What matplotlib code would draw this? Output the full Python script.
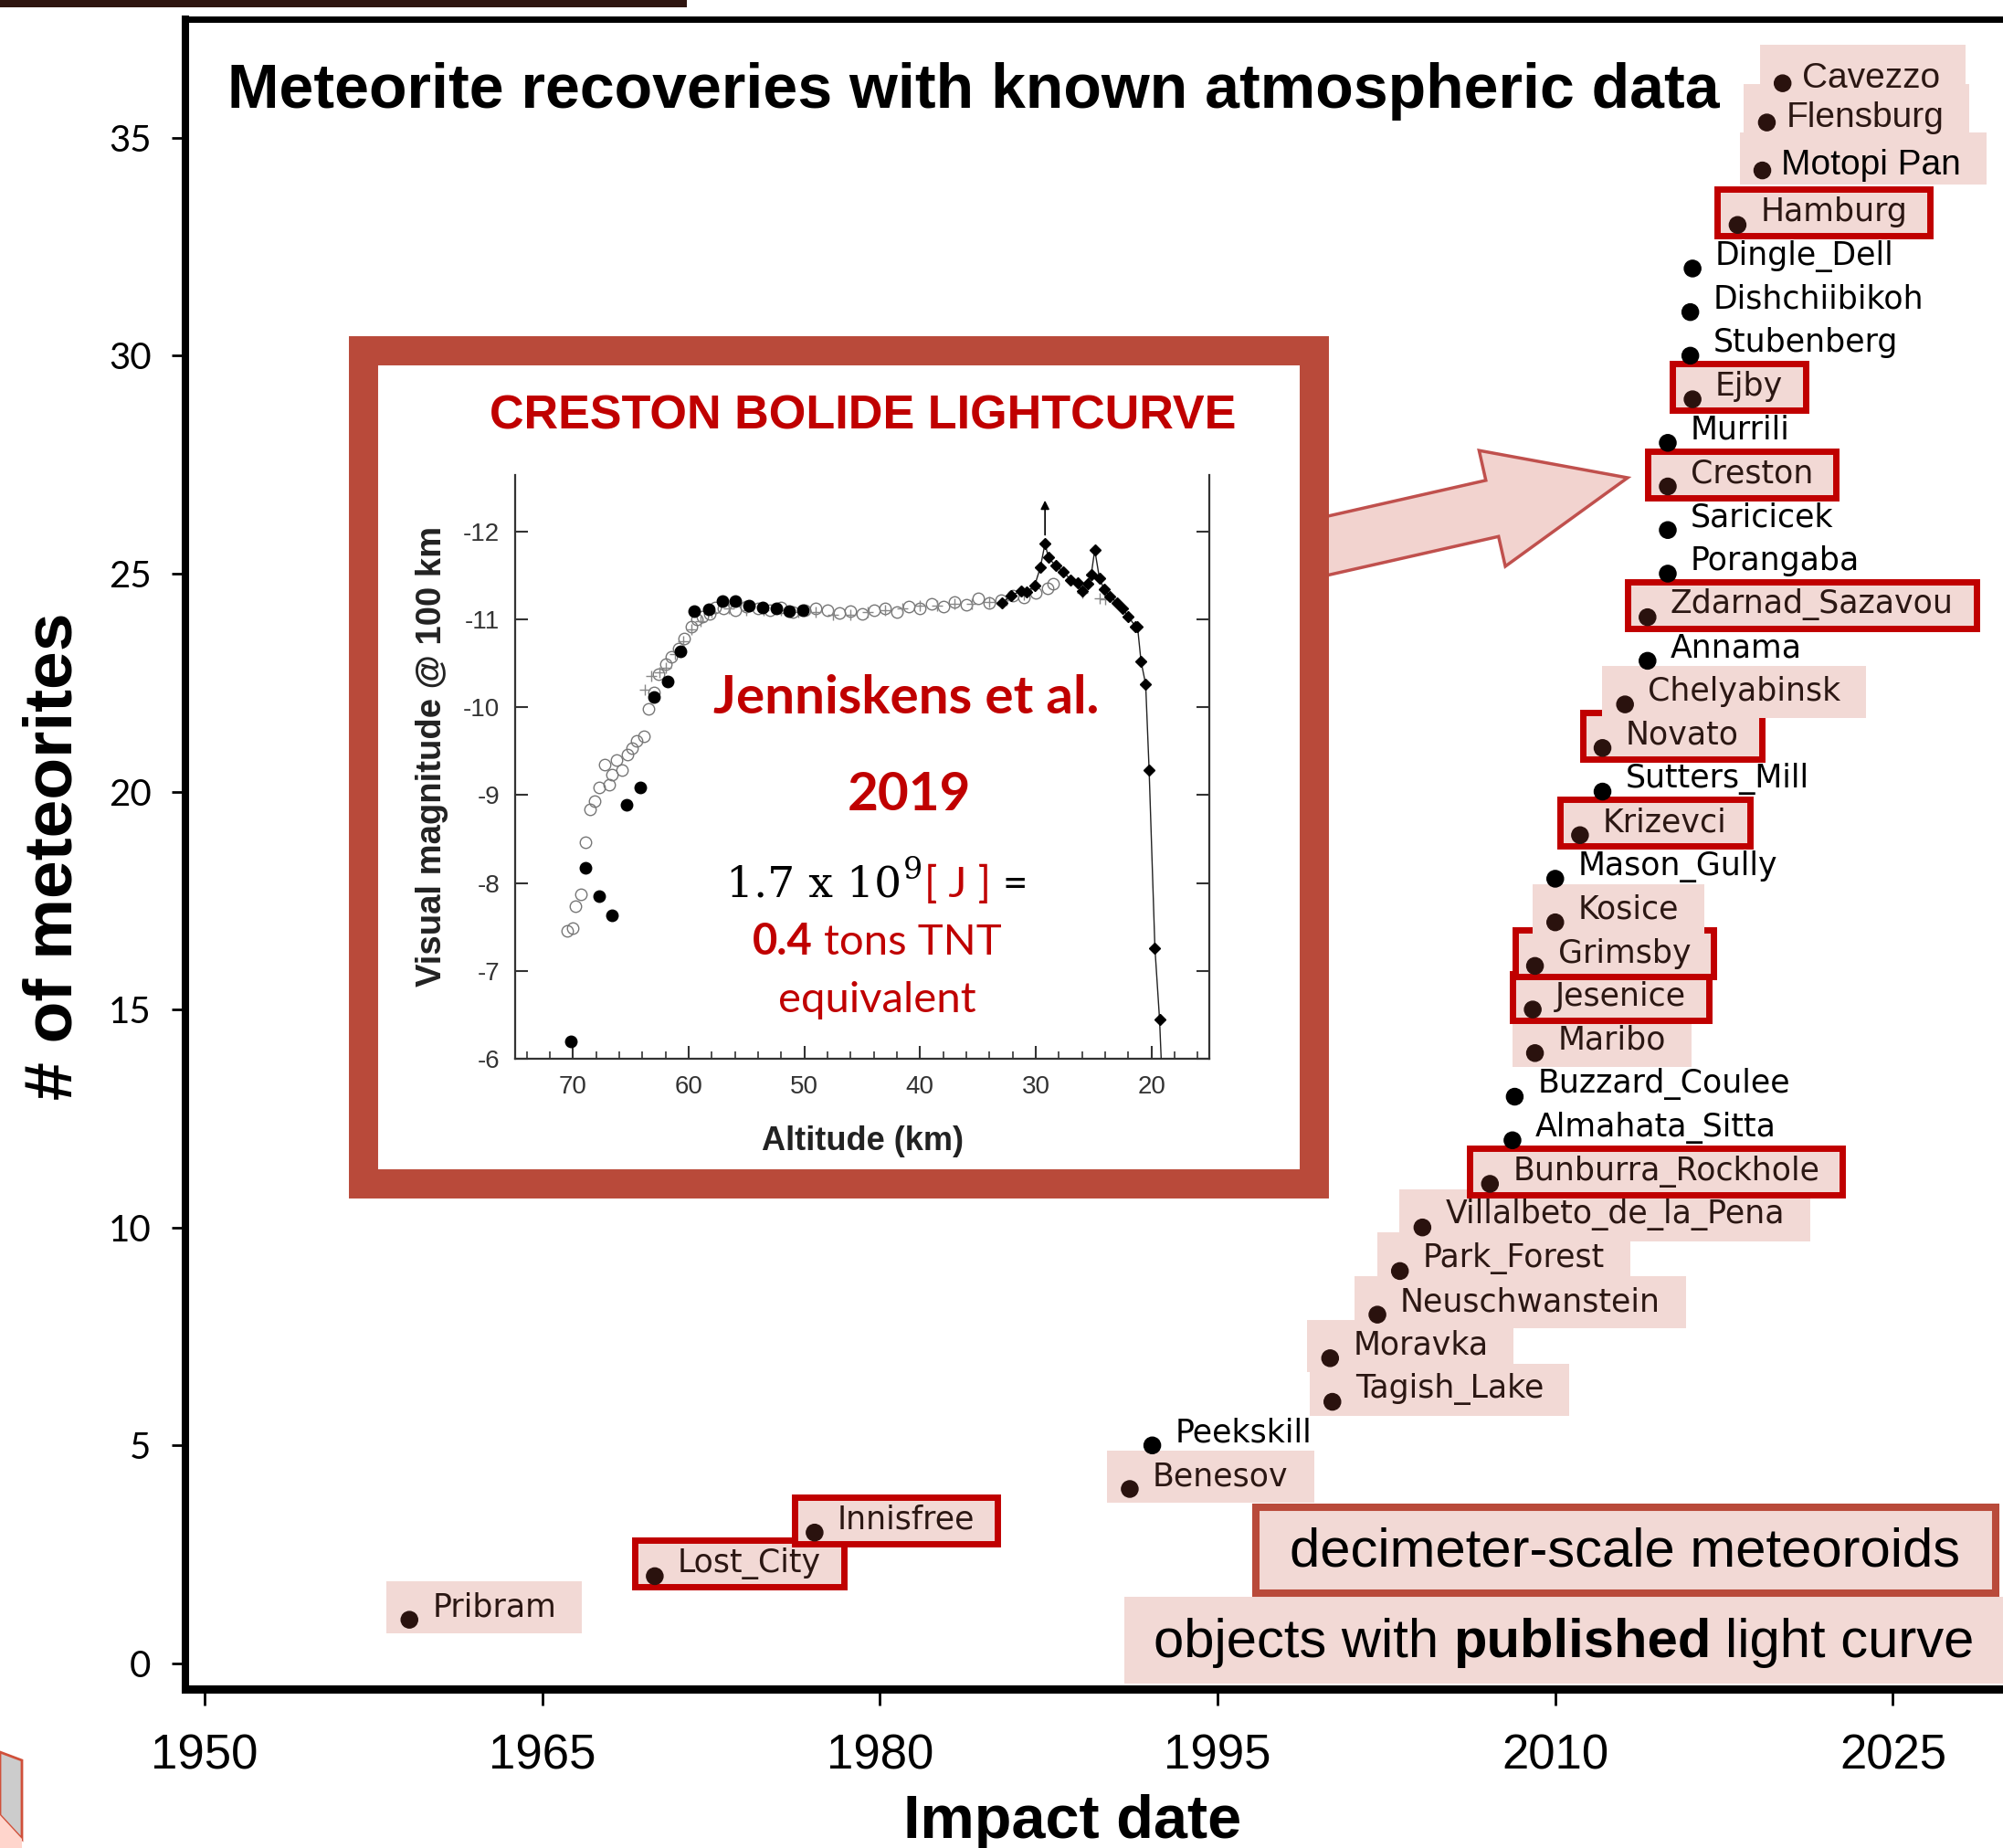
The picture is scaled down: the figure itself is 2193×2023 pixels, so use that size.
import matplotlib
matplotlib.use('Agg')
import matplotlib.pyplot as plt
import matplotlib.patches as mpatches
from matplotlib.transforms import IdentityTransform

plt.rcParams['axes.unicode_minus'] = False

# --- данные: метеориты (год падения, порядковый номер) ---
names = ['Pribram', 'Lost_City', 'Innisfree', 'Benesov', 'Peekskill', 'Tagish_Lake',
         'Moravka', 'Neuschwanstein', 'Park_Forest', 'Villalbeto_de_la_Pena',
         'Bunburra_Rockhole', 'Almahata_Sitta', 'Buzzard_Coulee', 'Maribo', 'Jesenice',
         'Grimsby', 'Kosice', 'Mason_Gully', 'Krizevci', 'Sutters_Mill', 'Novato',
         'Chelyabinsk', 'Annama', 'Zdarnad_Sazavou', 'Porangaba', 'Saricicek', 'Creston',
         'Murrili', 'Ejby', 'Stubenberg', 'Dishchiibikoh', 'Dingle_Dell', 'Hamburg',
         'Motopi Pan', 'Flensburg', 'Cavezzo']
years = [1959.1, 1970.0, 1977.1, 1991.1, 1992.1, 2000.1, 2000.0, 2002.1, 2003.1, 2004.1,
         2007.1, 2008.1, 2008.2, 2009.1, 2009.0, 2009.1, 2010.0, 2010.0, 2011.1, 2012.1,
         2012.1, 2013.1, 2014.1, 2014.1, 2015.0, 2015.0, 2015.0, 2015.0, 2016.1, 2016.0,
         2016.0, 2016.1, 2018.1, 2019.2, 2019.4, 2020.1]
counts = [1, 2, 3, 4, 5, 6, 7, 8, 9, 10, 11, 12, 13, 14, 15, 16, 17, 18, 19, 20, 21, 22,
          23, 24, 25, 26, 27, 28, 29, 30, 31, 32, 33, 34.25, 35.35, 36.25]
# p - розовая подложка, r - красная рамка, n - ничего
marks = ['p', 'r', 'r', 'p', 'n', 'p', 'p', 'p', 'p', 'p', 'r', 'n', 'n', 'p', 'r', 'r',
         'p', 'n', 'r', 'n', 'r', 'p', 'n', 'r', 'n', 'n', 'r', 'n', 'r', 'n', 'n', 'n',
         'r', 'p', 'p', 'p']

x_ticks = [1950, 1965, 1980, 1995, 2010, 2025]
y_ticks = [0, 5, 10, 15, 20, 25, 30, 35]

# --- кривая блеска Creston (высота км, звёздная величина) ---
fc_alt = [70.2, 68.9, 67.7, 66.6, 65.4, 64.2, 63.0, 61.8, 60.7, 59.5, 58.3, 57.1, 56.0,
          54.8, 53.6, 52.4, 51.3, 50.1]
fc_mag = [-6.20, -8.17, -7.85, -7.63, -8.89, -9.09, -10.11, -10.29, -10.63, -11.09,
          -11.11, -11.21, -11.21, -11.15, -11.13, -11.12, -11.09, -11.10]

oc_alt = [70.5, 70.0, 69.8, 69.3, 68.9, 68.5, 68.1, 67.7, 67.3, 66.9, 66.6, 66.2, 65.8,
          65.3, 64.9, 64.5, 63.9, 63.5, 63.0, 62.6, 62.0, 61.5, 60.9, 60.4, 59.8, 59.3,
          58.8, 58.2, 57.7, 57.0, 56.0, 55.0, 54.0, 53.0, 52.0, 51.0, 50.0, 49.0, 48.0,
          47.0, 46.0, 45.0, 44.0, 43.0, 42.0, 41.0, 40.0, 39.0, 38.0, 37.0, 36.0, 35.0,
          34.0, 33.0, 32.0, 31.0, 30.0, 29.0, 28.5]
oc_mag = [-7.45, -7.49, -7.74, -7.87, -8.46, -8.84, -8.93, -9.09, -9.35, -9.12, -9.23,
          -9.40, -9.28, -9.46, -9.53, -9.62, -9.67, -9.98, -10.17, -10.37, -10.49, -10.57,
          -10.67, -10.78, -10.91, -11.00, -11.03, -11.06, -11.13, -11.12, -11.10, -11.14,
          -11.12, -11.10, -11.13, -11.08, -11.10, -11.12, -11.10, -11.07, -11.09, -11.06,
          -11.10, -11.12, -11.08, -11.14, -11.12, -11.17, -11.14, -11.20, -11.16, -11.24,
          -11.19, -11.22, -11.27, -11.25, -11.30, -11.35, -11.40]

cr_alt = [63.8, 63.2, 62.5, 62.0, 61.2, 60.5, 59.8, 59.0, 58.0, 56.5, 55.0, 53.5, 52.0,
          50.5, 49.0, 47.5, 46.0, 44.5, 43.0, 41.5, 40.0, 38.5, 37.0, 35.5, 34.0, 32.5,
          31.0, 26.0, 24.5, 24.0]
cr_mag = [-10.20, -10.35, -10.40, -10.45, -10.60, -10.75, -10.88, -10.98, -11.08, -11.12,
          -11.10, -11.10, -11.10, -11.08, -11.08, -11.05, -11.05, -11.08, -11.10, -11.12,
          -11.15, -11.15, -11.17, -11.18, -11.20, -11.22, -11.28, -11.30, -11.24, -11.23]

dm_alt = [32.9, 32.1, 31.3, 30.8, 30.1, 29.6, 29.2, 28.9, 28.3, 27.6, 27.0, 26.4, 26.0,
          25.5, 25.2, 24.9, 24.5, 24.1, 23.6, 23.0, 22.5, 22.0, 21.4, 21.2, 20.9, 20.5,
          20.2, 19.7, 19.3, 19.0]
dm_mag = [-11.19, -11.27, -11.32, -11.31, -11.38, -11.59, -11.86, -11.70, -11.61, -11.54,
          -11.45, -11.41, -11.32, -11.40, -11.51, -11.79, -11.47, -11.34, -11.26, -11.19,
          -11.12, -11.03, -10.92, -10.91, -10.52, -10.26, -9.28, -7.26, -6.45, -5.5]

PINK = '#f2d9d5'
RED = '#c00000'
BRICK = '#b94a3a'
DARK = '#2a120e'

W, H = 2193, 2023
fig = plt.figure(figsize=(W / 100, H / 100), dpi=100)
fig.patch.set_facecolor('white')
px = IdentityTransform()


def fx(x):
    return x / W


def fy(y):
    return 1 - y / H


def box(x0, y0, x1, y1, **kw):
    # прямоугольник в пикселях картинки (y вниз)
    r = mpatches.Rectangle((x0, H - y1), x1 - x0, y1 - y0, transform=px, **kw)
    fig.add_artist(r)
    return r


# --- основная ось ---
ax = fig.add_axes([fx(203), fy(1849), 2042 / W, (1849 - 21) / H])
ax.set_xlim(1949.15, 2032)
ax.set_ylim(-0.59, 37.72)
ax.spines['right'].set_visible(False)
ax.spines['left'].set_linewidth(5.8)
ax.spines['bottom'].set_linewidth(6.5)
ax.spines['top'].set_linewidth(5)
ax.set_xticks(x_ticks)
ax.set_yticks(y_ticks)
ax.tick_params(axis='x', length=13, width=2, pad=22, labelsize=38)
ax.tick_params(axis='y', length=11, width=2, pad=16, labelsize=29)
for t in ax.get_xticklabels():
    t.set_fontfamily('Liberation Sans')
for t in ax.get_yticklabels():
    t.set_fontfamily('Lato')

dot_col = [DARK if m != 'n' else 'black' for m in marks]
ax.scatter(years, counts, s=170, c=dot_col, zorder=5, clip_on=False)

labels = []
for i, n in enumerate(names):
    top3 = i >= len(names) - 3
    txt_col = 'black' if (marks[i] == 'n' or n == 'Motopi Pan') else '#2b1713'
    t = ax.annotate(n, (years[i], counts[i]),
                    xytext=(15, 4) if top3 else (18, 10), textcoords='offset points',
                    ha='left', va='center', fontsize=28 if top3 else 25,
                    family='Liberation Sans' if top3 else 'DejaVu Sans',
                    color=txt_col, zorder=6, annotation_clip=False)
    labels.append(t)

fig.canvas.draw()
rend = fig.canvas.get_renderer()
for i, t in enumerate(labels):
    if marks[i] == 'n':
        continue
    bb = t.get_window_extent(rend)
    dx, dy = ax.transData.transform((years[i], counts[i]))
    x0, x1 = dx - 25, bb.x1 + 28
    y0, y1 = dy - 15, dy + 42
    if marks[i] == 'r':
        rect = mpatches.Rectangle((x0 + 3, y0 + 3), x1 - x0 - 6, y1 - y0 - 6, transform=px,
                                  fc=PINK, ec=RED, lw=5, zorder=3, clip_on=False)
    else:
        rect = mpatches.Rectangle((x0, y0), x1 - x0, y1 - y0, transform=px,
                                  fc=PINK, ec='none', zorder=3, clip_on=False)
    ax.add_patch(rect)

fig.text(fx(249), fy(100), 'Meteorite recoveries with known atmospheric data',
         family='Liberation Sans', weight='bold', fontsize=49, ha='left', va='center')
fig.text(fx(59), fy(937), '# of meteorites', family='Liberation Sans', weight='bold',
         fontsize=54, rotation=90, ha='center', va='center')
fig.text(fx(1174), fy(2012), 'Impact date', family='Liberation Sans', weight='bold',
         fontsize=48, ha='center', va='baseline')

# --- стрелка к Creston ---
arr = mpatches.FancyArrow(1430, H - 602.7, 352, 79.7, width=63, head_width=130,
                          head_length=152, length_includes_head=True, transform=px,
                          fc='#f2d3cf', ec='#c0504d', lw=2.5, zorder=1.5)
fig.add_artist(arr)

# --- врезка с кривой блеска ---
box(398, 384, 1439, 1296, fc='white', ec=BRICK, lw=23, zorder=2)

ins = fig.add_axes([fx(564), fy(1159), (1324 - 564) / W, (1159 - 520) / H], zorder=3)
ins.set_xlim(75, 15)
ins.set_ylim(-6, -12.64)
ins.spines['top'].set_visible(False)
for s in ('left', 'right', 'bottom'):
    ins.spines[s].set_color('#333333')
    ins.spines[s].set_linewidth(1.6)
ins.set_xticks([70, 60, 50, 40, 30, 20])
ins.set_xticks(range(74, 15, -2), minor=True)
ins.set_yticks([-12, -11, -10, -9, -8, -7, -6])
ins.tick_params(axis='both', direction='in', length=10, width=1.5, color='#333333',
                labelsize=20, labelcolor='#333333', right=True, top=False)
ins.tick_params(axis='x', which='minor', direction='in', length=6, width=1.2,
                color='#333333', top=False)
ins.tick_params(axis='x', pad=13)
ins.tick_params(axis='y', pad=12)
for t in ins.get_xticklabels() + ins.get_yticklabels():
    t.set_fontfamily('Liberation Sans')

ins.plot(oc_alt, oc_mag, 'o', mfc='none', mec='#777777', ms=9, mew=1.0, zorder=2)
ins.plot(cr_alt, cr_mag, '+', color='#888888', ms=9, mew=1.0, zorder=2)
ins.plot(fc_alt, fc_mag, 'o', color='black', ms=9, zorder=3)
ins.plot(dm_alt, dm_mag, '-', color='#222222', lw=1.0, zorder=3)
ins.plot(dm_alt, dm_mag, 'D', color='black', ms=6.5, zorder=4)
ins.annotate('', xy=(29.2, -12.38), xytext=(29.2, -11.93),
             arrowprops=dict(arrowstyle='-|>', color='black', lw=1.2, mutation_scale=14))

fig.text(fx(945), fy(470), 'CRESTON BOLIDE LIGHTCURVE', family='Liberation Sans',
         weight='bold', fontsize=37.5, color=RED, ha='center', va='baseline', zorder=5)
fig.text(fx(944), fy(1259), 'Altitude (km)', family='Liberation Sans', weight='bold',
         fontsize=26, color='#222222', ha='center', va='baseline', zorder=5)
fig.text(fx(473), fy(828), 'Visual magnitude @ 100 km', family='Liberation Sans',
         weight='bold', fontsize=27.5, color='#222222', rotation=90, ha='center',
         va='center', zorder=5)
fig.text(fx(992), fy(781), 'Jenniskens et al.', family='Lato', weight='bold',
         fontsize=42, color=RED, ha='center', va='baseline', zorder=5)
fig.text(fx(995), fy(887), '2019', family='Lato', weight='bold', fontsize=42,
         color=RED, ha='center', va='baseline', zorder=5)


def chain(xc, yb, pieces):
    # несколько кусков текста подряд, центр по xc, базовая линия yb (пиксели картинки)
    made = []
    for s, kw in pieces:
        kw = dict(kw)
        rise = kw.pop('rise', 0)
        gap = kw.pop('gap', 0)
        t = fig.text(0, 0, s, transform=px, ha='left', va='baseline', zorder=5, **kw)
        made.append((t, rise, gap))
    ws = [t.get_window_extent(rend).width for t, _, _ in made]
    x = xc - (sum(ws) + sum(g for _, _, g in made)) / 2
    for (t, rise, gap), w in zip(made, ws):
        x += gap
        t.set_position((x, H - yb + rise))
        x += w


fig.canvas.draw()
rend = fig.canvas.get_renderer()
chain(960, 982, [('1.7 x 10', dict(family='DejaVu Serif', fontsize=34, color='black')),
                 ('9', dict(family='DejaVu Serif', fontsize=24, color='black', rise=20,
                            gap=2)),
                 ('[ J ]', dict(family='Lato', fontsize=34, color=RED, gap=2)),
                 ('=', dict(family='Lato', fontsize=34, color='black', gap=12))])
chain(960, 1045, [('0.4', dict(family='Lato', weight='bold', fontsize=34, color=RED)),
                  ('tons TNT', dict(family='Lato', fontsize=34, color=RED, gap=12))])
chain(960, 1108, [('equivalent', dict(family='Lato', fontsize=34, color=RED))])

# --- легенда снизу справа ---
box(1231, 1748, 2200, 1843, fc=PINK, ec='none', zorder=2)
box(1375, 1650, 2185, 1744, fc=PINK, ec=BRICK, lw=5.8, zorder=2.1)
fig.text(fx(1779), fy(1699), 'decimeter-scale meteoroids', family='Liberation Sans',
         fontsize=43, color='black', ha='center', va='center', zorder=5)
chain(1712, 1814, [('objects with', dict(family='Liberation Sans', fontsize=43,
                                          color='black')),
                   ('published', dict(family='Liberation Sans', weight='bold',
                                      fontsize=43, color='black', gap=16)),
                   ('light curve', dict(family='Liberation Sans', fontsize=43,
                                        color='black', gap=16))])

# --- обрывки слайда по краям ---
box(0, 0, 752, 8, fc='#2e1510', ec='none', zorder=6)
grey = mpatches.Polygon([(0, H - 1918), (24, H - 1927), (24, H - 2013), (0, H - 1987)],
                        closed=True, transform=px, fc='#cccccc', ec='#d0503a', lw=2,
                        zorder=6)
fig.add_artist(grey)
pinkc = mpatches.Polygon([(0, H - 1987), (24, H - 2013), (24, 0), (0, 0)], closed=True,
                         transform=px, fc='#ffd5cc', ec='none', zorder=6)
fig.add_artist(pinkc)

fig.savefig('out.png', dpi=100)
